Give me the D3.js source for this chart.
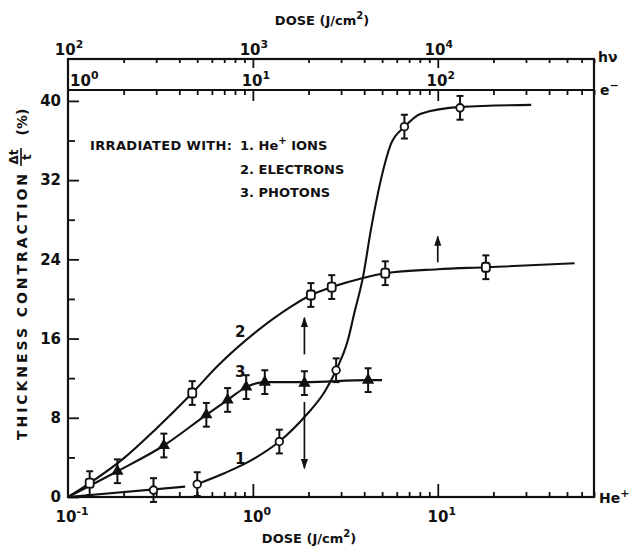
<!DOCTYPE html>
<html>
<head>
<meta charset="utf-8">
<script src="https://cdn.jsdelivr.net/npm/d3@7"></script>
<style>
body { margin: 0; background: #fff; }
svg text { font-family: "DejaVu Sans", sans-serif; fill: #111; font-weight: bold; }
</style>
</head>
<body>
<svg id="chart" width="632" height="546"></svg>
<script>
// measured points (dose in J/cm2 on the He+ scale, contraction in %)
var heDose = [0.29, 0.5, 1.39, 2.82, 6.6, 13.2];
var heVal  = [0.7, 1.3, 5.6, 12.8, 37.4, 39.3];
var elDose = [0.131, 0.47, 2.06, 2.67, 5.2, 18.2];
var elVal  = [1.4, 10.5, 20.4, 21.2, 22.6, 23.2];
var phDose = [0.185, 0.33, 0.56, 0.73, 0.92, 1.16, 1.9, 4.2];
var phVal  = [2.6, 5.2, 8.3, 9.8, 11.1, 11.6, 11.5, 11.8];

// drawn curves
var heLowDose = [0.1, 0.43];
var heLowVal  = [0, 1.05];
var heCurveDose = [0.5, 0.7, 1.0, 1.39, 1.95, 2.44, 2.82, 3.26, 3.54, 3.94, 4.35, 4.92, 5.57, 6.63, 8.1, 13.3, 32];
var heCurveVal  = [1.3, 2.4, 3.8, 5.6, 8.3, 10.6, 12.8, 15.8, 18.6, 22.2, 27, 32, 35.6, 37.4, 38.7, 39.4, 39.6];
var elCurveDose = [0.1, 0.131, 0.2, 0.3, 0.47, 0.65, 1.06, 1.6, 2.06, 2.67, 3.9, 5.2, 10, 18.2, 55];
var elCurveVal  = [0, 1.4, 3.9, 6.9, 10.5, 13.3, 16.8, 19.2, 20.4, 21.2, 22.1, 22.6, 23.0, 23.2, 23.6];
var phCurveDose = [0.1, 0.185, 0.33, 0.56, 0.73, 0.92, 1.16, 1.9, 4.2, 5.0];
var phCurveVal  = [0, 2.6, 5.2, 8.3, 9.8, 11.1, 11.6, 11.6, 11.8, 11.8];

// arrows: dose, from, to (%)
var arrowDose = [1.9, 1.9, 10];
var arrowFrom = [14.4, 9.6, 23.7];
var arrowTo   = [18.1, 2.9, 26.3];

// tick labels
var heDecades = [0.1, 1, 10];
var heExp = ["-1", "0", "1"];
var hvDecades = [100, 1000, 10000];
var hvExp = ["2", "3", "4"];
var elDecades = [1, 10, 100];
var elExp = ["0", "1", "2"];
var yMajor = [0, 8, 16, 24, 32, 40];
var yMinor = [4, 12, 20, 28, 36];

var errBar = 1.2;

var svg = d3.select("#chart");

var x = d3.scaleLog().domain([0.1, 70]).range([68, 594]);
var xHv = d3.scaleLog().domain([100, 70000]).range([68, 594]);
var xEl = d3.scaleLog().domain([1, 700]).range([68, 594]);
var y = d3.scaleLinear().domain([0, 41.1]).range([497, 90]);

function isDecade(t) {
  var l = Math.log10(t);
  return Math.abs(l - Math.round(l)) < 1e-6;
}
function minors(s) {
  return s.ticks().filter(function(t) { return !isDecade(t); });
}
function addAxis(axis, tr) {
  var g = svg.append("g").attr("transform", tr).call(axis);
  g.select(".domain").remove();
  g.selectAll("line").attr("stroke", "#111").attr("stroke-width", 1.8);
  return g;
}
// 10 with a superscript exponent
function powLabel(px, py, e, anchor, size) {
  var t = svg.append("text")
    .attr("x", px).attr("y", py)
    .attr("text-anchor", anchor)
    .style("font-size", size + "px");
  t.append("tspan").text("10");
  t.append("tspan").attr("dy", -size * 0.45).style("font-size", (size * 0.72) + "px").text(e);
}

// frame
svg.append("rect")
  .attr("x", 68).attr("y", 59)
  .attr("width", 594 - 68).attr("height", 497 - 59)
  .attr("fill", "none").attr("stroke", "#111").attr("stroke-width", 2.2);
svg.append("line")
  .attr("x1", 68).attr("x2", 594).attr("y1", 90).attr("y2", 90)
  .attr("stroke", "#111").attr("stroke-width", 2.2);

// bottom He+ axis, ticks pointing in
addAxis(d3.axisBottom(x).tickValues(minors(x)).tickSize(-5).tickFormat(""), "translate(0,497)");
addAxis(d3.axisBottom(x).tickValues(heDecades.slice(1)).tickSize(-13).tickFormat(""), "translate(0,497)");
heDecades.forEach(function(d, i) {
  powLabel(x(d) + 4, 522, heExp[i], "middle", 15);
});

// top photon axis
addAxis(d3.axisTop(xHv).tickValues(minors(xHv)).tickSize(-4).tickFormat(""), "translate(0,59)");
addAxis(d3.axisTop(xHv).tickValues(hvDecades.slice(1)).tickSize(-9).tickFormat(""), "translate(0,59)");
hvDecades.forEach(function(d, i) {
  powLabel(xHv(d) + 1, 55, hvExp[i], "middle", 15);
});

// electron axis
addAxis(d3.axisTop(xEl).tickValues(minors(xEl)).tickSize(-5).tickFormat(""), "translate(0,90)");
addAxis(d3.axisTop(xEl).tickValues(elDecades.slice(1)).tickSize(-11).tickFormat(""), "translate(0,90)");
elDecades.forEach(function(d, i) {
  if (i == 0) powLabel(xEl(d) + 2, 86, elExp[i], "start", 15);
  else powLabel(xEl(d) + 3, 86, elExp[i], "middle", 15);
});

// Y axis
addAxis(d3.axisLeft(y).tickValues(yMinor).tickSize(-7).tickFormat(""), "translate(68,0)");
var yg = addAxis(d3.axisLeft(y).tickValues(yMajor).tickSize(-11).tickPadding(7), "translate(68,0)");
yg.selectAll("text")
  .style("font-family", "DejaVu Sans, sans-serif")
  .style("font-size", "15px")
  .style("font-weight", "bold")
  .attr("fill", "#111");

// axis titles
function doseTitle(cx, by) {
  var t = svg.append("text")
    .attr("x", cx).attr("y", by)
    .attr("text-anchor", "middle")
    .style("font-size", "13px");
  t.append("tspan").text("DOSE (J/cm");
  t.append("tspan").attr("dy", -6).style("font-size", "10px").text("2");
  t.append("tspan").attr("dy", 6).text(")");
}
doseTitle(322, 25);
doseTitle(309, 543);

svg.append("text").attr("x", 598).attr("y", 62).style("font-size", "14px").text("hν");
svg.append("text").attr("x", 600).attr("y", 95).style("font-size", "14px")
  .text("e").append("tspan").attr("dy", -6).style("font-size", "11px").text("−");
var heLab = svg.append("text").attr("x", 599).attr("y", 503).style("font-size", "14px");
heLab.append("tspan").text("He");
heLab.append("tspan").attr("dy", -6).style("font-size", "11px").text("+");

// Y label
var yl = svg.append("g").attr("transform", "translate(27,0) rotate(-90)");
yl.append("text")
  .attr("x", -440).attr("y", 0)
  .attr("textLength", 266).attr("lengthAdjust", "spacing")
  .style("font-size", "14px")
  .text("THICKNESS CONTRACTION");
yl.append("text").attr("x", -157).attr("y", -9).attr("text-anchor", "middle")
  .style("font-size", "12px").text("Δt");
yl.append("line").attr("x1", -166).attr("x2", -148).attr("y1", -6).attr("y2", -6)
  .attr("stroke", "#111").attr("stroke-width", 1.6);
yl.append("text").attr("x", -157).attr("y", 4).attr("text-anchor", "middle")
  .style("font-size", "12px").text("t");
yl.append("text").attr("x", -122).attr("y", 0).attr("text-anchor", "middle")
  .style("font-size", "14px").text("(%)");

// legend
var lg = svg.append("g").style("font-size", "13px");
lg.append("text").attr("x", 90).attr("y", 150).attr("textLength", 142).attr("lengthAdjust", "spacing").text("IRRADIATED WITH:");
var l1 = lg.append("text").attr("x", 240).attr("y", 150);
l1.append("tspan").text("1. He");
l1.append("tspan").attr("dy", -6).style("font-size", "10px").text("+");
l1.append("tspan").attr("dy", 6).text(" IONS");
lg.append("text").attr("x", 240).attr("y", 174).text("2. ELECTRONS");
lg.append("text").attr("x", 240).attr("y", 197).text("3. PHOTONS");

// curves
var line = d3.line()
  .x(function(d) { return x(d[0]); })
  .y(function(d) { return y(d[1]); })
  .curve(d3.curveMonotoneX);
function zip(a, b) { return a.map(function(v, i) { return [v, b[i]]; }); }

[zip(heLowDose, heLowVal), zip(heCurveDose, heCurveVal), zip(elCurveDose, elCurveVal), zip(phCurveDose, phCurveVal)]
  .forEach(function(c) {
    svg.append("path")
      .datum(c)
      .attr("d", line)
      .attr("fill", "none")
      .attr("stroke", "#111")
      .attr("stroke-width", 2.1);
  });

// curve numbers
svg.append("text").attr("x", x(0.8)).attr("y", y(3.3)).style("font-size", "15px").text("1");
svg.append("text").attr("x", x(0.8)).attr("y", y(16.2)).style("font-size", "15px").text("2");
svg.append("text").attr("x", x(0.8)).attr("y", y(12.1)).style("font-size", "15px").text("3");

// error bars
function errBars(dose, val) {
  var g = svg.append("g").attr("stroke", "#111").attr("stroke-width", 2);
  dose.forEach(function(d, i) {
    var px = x(d), y0 = y(val[i] - errBar), y1 = y(val[i] + errBar);
    g.append("line").attr("x1", px).attr("x2", px).attr("y1", y0).attr("y2", y1);
    g.append("line").attr("x1", px - 3.5).attr("x2", px + 3.5).attr("y1", y0).attr("y2", y0);
    g.append("line").attr("x1", px - 3.5).attr("x2", px + 3.5).attr("y1", y1).attr("y2", y1);
  });
}
errBars(heDose, heVal);
errBars(elDose, elVal);
errBars(phDose, phVal);

// markers
svg.append("g").selectAll("circle")
  .data(zip(heDose, heVal))
  .enter()
  .append("circle")
    .attr("cx", function(d) { return x(d[0]); })
    .attr("cy", function(d) { return y(d[1]); })
    .attr("r", 3.8)
    .attr("fill", "#fff")
    .attr("stroke", "#111")
    .attr("stroke-width", 1.8);

svg.append("g").selectAll("rect")
  .data(zip(elDose, elVal))
  .enter()
  .append("rect")
    .attr("x", function(d) { return x(d[0]) - 4; })
    .attr("y", function(d) { return y(d[1]) - 4.5; })
    .attr("width", 8).attr("height", 9).attr("rx", 2.5)
    .attr("fill", "#fff")
    .attr("stroke", "#111")
    .attr("stroke-width", 1.8);

svg.append("g").selectAll("path")
  .data(zip(phDose, phVal))
  .enter()
  .append("path")
    .attr("d", d3.symbol().type(d3.symbolTriangle).size(65))
    .attr("transform", function(d) { return "translate(" + x(d[0]) + "," + y(d[1]) + ")"; })
    .attr("fill", "#111");

// arrows
var defs = svg.append("defs");
defs.append("marker")
  .attr("id", "head")
  .attr("viewBox", "0 0 10 10")
  .attr("refX", 9).attr("refY", 5)
  .attr("markerWidth", 6).attr("markerHeight", 6)
  .attr("orient", "auto")
  .append("path").attr("d", "M0,1.5 L10,5 L0,8.5 Z").attr("fill", "#111");
arrowDose.forEach(function(d, i) {
  svg.append("line")
    .attr("x1", x(d)).attr("x2", x(d))
    .attr("y1", y(arrowFrom[i])).attr("y2", y(arrowTo[i]))
    .attr("stroke", "#111").attr("stroke-width", 1.7)
    .attr("marker-end", "url(#head)");
});
</script>
</body>
</html>
